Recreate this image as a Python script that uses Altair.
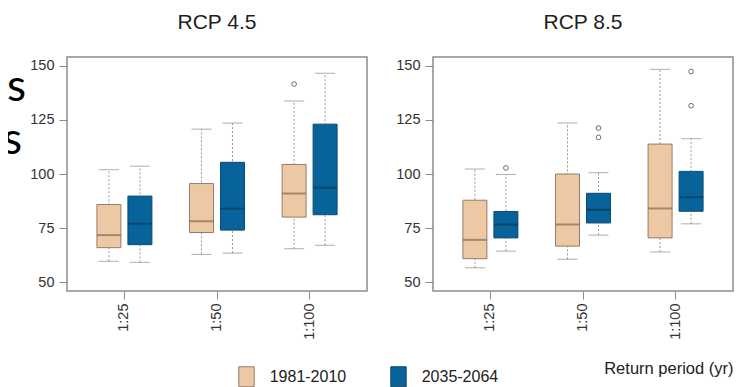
import altair as alt
import pandas as pd

FONT = "Liberation Sans"

periods = ["1:25", "1:50", "1:100"]
eras = ["1981-2010", "2035-2064"]

# ---- RCP 4.5 : box statistics (whisker low, Q1, median, Q3, whisker high)
rcp45_past_low = [59.7, 62.9, 65.5]
rcp45_past_q1 = [66.0, 73.0, 80.1]
rcp45_past_med = [71.8, 78.2, 91.0]
rcp45_past_q3 = [85.9, 95.6, 104.4]
rcp45_past_high = [102.0, 120.7, 133.7]

rcp45_fut_low = [59.2, 63.5, 67.1]
rcp45_fut_q1 = [67.4, 74.1, 81.2]
rcp45_fut_med = [77.1, 84.0, 93.7]
rcp45_fut_q3 = [89.8, 105.4, 123.0]
rcp45_fut_high = [103.6, 123.5, 146.5]

rcp45_out_period = ["1:100"]
rcp45_out_era = ["1981-2010"]
rcp45_out_value = [141.5]

# ---- RCP 8.5
rcp85_past_low = [56.7, 60.6, 64.0]
rcp85_past_q1 = [60.9, 66.7, 70.5]
rcp85_past_med = [69.6, 76.7, 84.1]
rcp85_past_q3 = [87.9, 100.0, 113.8]
rcp85_past_high = [102.3, 123.5, 148.3]

rcp85_fut_low = [64.4, 71.8, 77.0]
rcp85_fut_q1 = [70.5, 77.4, 82.8]
rcp85_fut_med = [76.7, 83.5, 89.3]
rcp85_fut_q3 = [82.7, 91.1, 101.2]
rcp85_fut_high = [99.8, 100.6, 116.3]

rcp85_out_period = ["1:25", "1:50", "1:50", "1:100", "1:100"]
rcp85_out_era = ["2035-2064", "2035-2064", "2035-2064", "2035-2064", "2035-2064"]
rcp85_out_value = [102.8, 121.2, 116.9, 147.3, 131.5]

panel_titles = ["RCP 4.5", "RCP 8.5"]
x_title = "Return period (yr)"
side_text = ["es", "s"]

FILL = ["#EDC8A5", "#07639A"]
EDGE = ["#9A7A66", "#0B4A72"]
MED = ["#8A6A56", "#0A3A5A"]


def stats_frame(past, fut):
    rows = []
    for era, s in ((eras[0], past), (eras[1], fut)):
        for i, p in enumerate(periods):
            rows.append(dict(period=p, era=era, low=s[0][i], q1=s[1][i],
                             med=s[2][i], q3=s[3][i], high=s[4][i]))
    return pd.DataFrame(rows)


s45 = stats_frame(
    (rcp45_past_low, rcp45_past_q1, rcp45_past_med, rcp45_past_q3, rcp45_past_high),
    (rcp45_fut_low, rcp45_fut_q1, rcp45_fut_med, rcp45_fut_q3, rcp45_fut_high))
s85 = stats_frame(
    (rcp85_past_low, rcp85_past_q1, rcp85_past_med, rcp85_past_q3, rcp85_past_high),
    (rcp85_fut_low, rcp85_fut_q1, rcp85_fut_med, rcp85_fut_q3, rcp85_fut_high))
o45 = pd.DataFrame({"period": rcp45_out_period, "era": rcp45_out_era, "value": rcp45_out_value})
o85 = pd.DataFrame({"period": rcp85_out_period, "era": rcp85_out_era, "value": rcp85_out_value})

W, H = 300, 234

legend_props = dict(
    orient="none", legendX=228, legendY=309, direction="horizontal", title=None,
    symbolType="M-0.77,-1H0.77V1H-0.77Z", symbolSize=400, symbolStrokeWidth=1,
    labelFontSize=16, labelFont=FONT, labelColor="#222", labelOffset=12.7,
    columnPadding=41, padding=0,
)


def title_params(text):
    return alt.TitleParams(text, fontSize=21, font=FONT, fontWeight="normal",
                           color="#1e1e1e", frame="group", offset=7,
                           baseline="alphabetic", anchor="middle")


def panel(stats, outl, title, with_xtitle):
    xs = alt.Scale(domain=periods, paddingInner=0, paddingOuter=0.12)
    xo = alt.Scale(domain=eras, paddingInner=0.226, paddingOuter=0.6065)
    ys = alt.Scale(domain=[46, 154], nice=False, zero=False)
    if with_xtitle:
        xaxis = alt.Axis(labelAngle=270, title=x_title, titleX=W, titleY=82,
                         titleAlign="right", titleAnchor="end",
                         titleBaseline="alphabetic", titleFontSize=16.5,
                         titleFont=FONT, titleFontWeight="normal", titleColor="#222")
    else:
        xaxis = alt.Axis(labelAngle=270, title=None)
    X = alt.X("period:N", scale=xs, sort=periods, axis=xaxis)
    XO = alt.XOffset("era:N", scale=xo, sort=eras)
    yaxis = alt.Axis(values=[50, 75, 100, 125, 150], title=None)

    base = alt.Chart(stats).encode(x=X, xOffset=XO)
    whisk = base.mark_rule(color="#9a9a9a", strokeDash=[2, 2], strokeWidth=1).encode(
        y=alt.Y("low:Q", scale=ys, axis=yaxis, title=None),
        y2="high:Q")
    cap_lo = base.mark_tick(color="#8c8c8c", size=20, thickness=1).encode(
        y=alt.Y("low:Q", title=None))
    cap_hi = base.mark_tick(color="#8c8c8c", size=20, thickness=1).encode(
        y=alt.Y("high:Q", title=None))
    box = base.mark_bar(strokeWidth=1, opacity=1).encode(
        y=alt.Y("q1:Q", title=None), y2="q3:Q",
        color=alt.Color("era:N", scale=alt.Scale(domain=eras, range=FILL),
                        legend=alt.Legend(**legend_props)),
        stroke=alt.Stroke("era:N", scale=alt.Scale(domain=eras, range=EDGE),
                          legend=alt.Legend(**legend_props)))
    med0 = base.transform_filter(alt.datum.era == eras[0]).mark_tick(
        color=MED[0], size=24, thickness=2).encode(y=alt.Y("med:Q", title=None))
    med1 = base.transform_filter(alt.datum.era == eras[1]).mark_tick(
        color=MED[1], size=24, thickness=2).encode(y=alt.Y("med:Q", title=None))
    pts = alt.Chart(outl).mark_point(filled=False, size=22, strokeWidth=1,
                                     color="#6e6e6e", opacity=1).encode(
        x=X, xOffset=XO, y=alt.Y("value:Q", title=None))
    return alt.layer(whisk, cap_lo, cap_hi, box, med0, med1, pts).properties(
        width=W, height=H, title=title_params(title),
        view=alt.ViewBackground(stroke="#8c8c8c", strokeWidth=1.5))


p45 = panel(s45, o45, panel_titles[0], False)
p85 = panel(s85, o85, panel_titles[1], True)

side_df = pd.DataFrame({"t": side_text})
side_a = alt.Chart(side_df).transform_filter(alt.datum.t == side_text[0]).mark_text(
    clip=True, align="right", baseline="alphabetic", font="Lato", fontSize=44,
    color="#000").encode(text="t:N", x=alt.value(18), y=alt.value(44))
side_b = alt.Chart(side_df).transform_filter(alt.datum.t == side_text[1]).mark_text(
    clip=True, align="right", baseline="alphabetic", font="Lato", fontSize=44,
    color="#000").encode(text="t:N", x=alt.value(14), y=alt.value(97))
side = alt.layer(side_a, side_b).properties(width=18, height=H, title=title_params(" "))

chart = alt.hconcat(
    side, alt.hconcat(p45, p85, spacing=27), spacing=3
).properties(
    padding={"left": 0, "top": 3, "right": 0, "bottom": 0}
).configure_view(
    strokeWidth=0
).configure_axis(
    grid=False, domain=False, tickColor="#8c8c8c", tickWidth=1, tickSize=8,
    labelFont=FONT, labelFontSize=14.5, labelColor="#333", labelPadding=4
).configure_axisY(
    labelPadding=5
)

chart.save("out.html", embed_options={"renderer": "svg", "actions": False})
